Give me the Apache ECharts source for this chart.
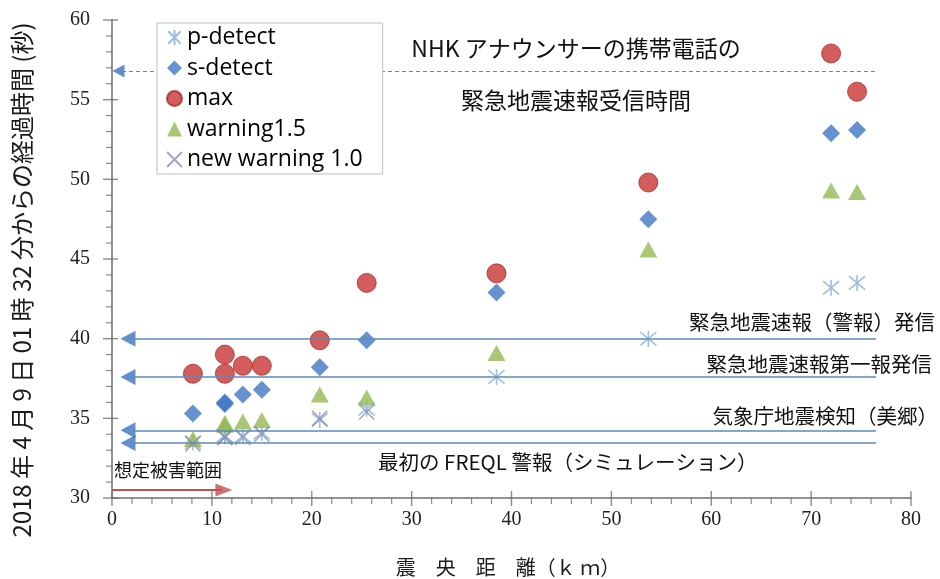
<!DOCTYPE html>
<html>
<head>
<meta charset="utf-8">
<script src="https://cdn.jsdelivr.net/npm/echarts/dist/echarts.min.js"></script>
<style>
  html, body { margin: 0; padding: 0; background: #fff; }
  #chart { width: 940px; height: 579px; }
</style>
</head>
<body>
<div id="chart"></div>
<script>
// Epicentral distance of each observing station (km)
const distanceKm = [8.1, 11.3, 11.3, 13.1, 15.0, 20.8, 25.5, 38.5, 53.7, 72.0, 74.6];

// Seconds elapsed since 2018-04-09 01:32 for each stage at each station
const pDetect      = [33.5, 33.9, 33.9, 33.9, 34.1, 34.9, 35.6, 37.6, 40.0, 43.2, 43.5];
const sDetect      = [35.3, 35.9, 36.0, 36.5, 36.8, 38.2, 39.9, 42.9, 47.5, 52.9, 53.1];
const maxShaking   = [37.8, 39.0, 37.8, 38.3, 38.3, 39.9, 43.5, 44.1, 49.8, 57.9, 55.5];
const warning15    = [33.7, 34.7, 34.6, 34.8, 34.9, 36.5, 36.3, 39.1, 45.6, 49.3, 49.2];
const newWarning10 = [33.4, 33.8, 33.8, 33.8, 34.0, 35.0, 35.4];

const seriesNames = ['p-detect', 's-detect', 'max', 'warning1.5', 'new warning 1.0'];

// Announcement times drawn as horizontal reference lines
const eventLabels = [
  '緊急地震速報（警報）発信',
  '緊急地震速報第一報発信',
  '気象庁地震検知（美郷）',
  '最初の FREQL 警報（シミュレーション）'
];
const eventTimes = [40.0, 37.6, 34.25, 33.45];
const nhkReceiveTime = 56.8;       // NHK announcer's phone received the alert
const damageRangeKm = 11.0;        // assumed damage range (arrow shaft end)
const damageArrowLevel = 30.5;

// Axis tick values (major ticks carry labels)
const xTicks = [0, 10, 20, 30, 40, 50, 60, 70, 80];
const yTicks = [30, 35, 40, 45, 50, 55, 60];
const xMinorTicks = [2, 4, 6, 8, 12, 14, 16, 18, 22, 24, 26, 28, 32, 34, 36, 38,
                     42, 44, 46, 48, 52, 54, 56, 58, 62, 64, 66, 68, 72, 74, 76, 78];
const yMinorTicks = [31, 32, 33, 34, 36, 37, 38, 39, 41, 42, 43, 44, 46, 47, 48, 49,
                     51, 52, 53, 54, 56, 57, 58, 59];

const pair = (xs, ys) => ys.map((y, i) => [xs[i], y]);

const ASTERISK = 'path://M1,1L11,11M11,1L1,11M6,0L6,12';
const CROSS = 'path://M0,0L10,10M10,0L0,10';

const JP = '"Noto Sans CJK JP", "Noto Sans", sans-serif';
const NUM = '"Liberation Serif", serif';

const axisGray = '#6e6e6e';
const refBlue = '#5b8bb7';
const arrowBlue = '#3d72c2';
const arrowRed = '#c0504d';

const chart = echarts.init(document.getElementById('chart'), null, { renderer: 'canvas' });

// Tick marks drawn as thin rectangles anchored on the axes
function tickMarks(name, points, size, offset) {
  return {
    name, type: 'scatter', silent: true, clip: false, z: 6,
    symbol: 'rect', symbolSize: size, symbolOffset: offset,
    itemStyle: { color: axisGray },
    data: points
  };
}

chart.setOption({
  animation: false,
  backgroundColor: '#fff',
  grid: { left: 112, right: 29, top: 20, bottom: 81, containLabel: false },
  xAxis: {
    type: 'value',
    min: xTicks[0], max: xTicks[xTicks.length - 1], interval: 10,
    splitLine: { show: false },
    axisLine: { show: true, onZero: false, lineStyle: { color: axisGray, width: 1.5 } },
    axisTick: { show: false },
    axisLabel: { margin: 12, fontFamily: NUM, fontSize: 20, color: '#222' }
  },
  yAxis: {
    type: 'value',
    min: yTicks[0], max: yTicks[yTicks.length - 1], interval: 5,
    splitLine: { show: false },
    axisLine: { show: true, onZero: false, lineStyle: { color: axisGray, width: 1.5 } },
    axisTick: { show: false },
    axisLabel: { margin: 22, fontFamily: NUM, fontSize: 20, color: '#222' }
  },
  legend: {
    orient: 'vertical',
    left: 157, top: 23,
    padding: [2, 20, 2, 9],
    itemWidth: 15, itemHeight: 15, itemGap: 5.5,
    backgroundColor: '#fff',
    borderColor: '#bfbfbf', borderWidth: 1,
    selectedMode: false,
    z: 10,
    data: seriesNames,
    textStyle: { fontFamily: '"Open Sans", sans-serif', fontSize: 23, lineHeight: 25, color: '#000' }
  },
  graphic: [
    { type: 'text', x: 22, y: 280, rotation: Math.PI / 2,
      style: { text: '2018 年 4 月 9 日 01 時 32 分からの経過時間 (秒)', font: '24px ' + JP, fill: '#1a1a1a', align: 'center', verticalAlign: 'middle' } },
    { type: 'text', x: 508, y: 567,
      style: { text: '震　央　距　離（ｋ ｍ）', font: '20px ' + JP, fill: '#1a1a1a', align: 'center', verticalAlign: 'middle' } },
    { type: 'text', x: 576, y: 48,
      style: { text: 'NHK アナウンサーの携帯電話の', font: '23px ' + JP, fill: '#111', align: 'center', verticalAlign: 'middle' } },
    { type: 'text', x: 576, y: 100,
      style: { text: '緊急地震速報受信時間', font: '23px ' + JP, fill: '#111', align: 'center', verticalAlign: 'middle' } },
    { type: 'text', x: 935, y: 322,
      style: { text: eventLabels[0], font: '20.5px ' + JP, fill: '#111', align: 'right', verticalAlign: 'middle' } },
    { type: 'text', x: 932, y: 364,
      style: { text: eventLabels[1], font: '20.5px ' + JP, fill: '#111', align: 'right', verticalAlign: 'middle' } },
    { type: 'text', x: 938, y: 416,
      style: { text: eventLabels[2], font: '20.5px ' + JP, fill: '#111', align: 'right', verticalAlign: 'middle' } },
    { type: 'text', x: 378, y: 462,
      style: { text: eventLabels[3], font: '20.5px ' + JP, fill: '#111', align: 'left', verticalAlign: 'middle' } },
    { type: 'text', x: 114, y: 470,
      style: { text: '想定被害範囲', font: '18px ' + JP, fill: '#111', align: 'left', verticalAlign: 'middle' } }
  ],
  series: [
    // axis ticks: majors cross the axis line, minors sit outside it
    tickMarks('yMajorTicks', yTicks.map(v => [xTicks[0], v]), [15, 1.4], [-1.5, 0]),
    tickMarks('yMinorTicks', yMinorTicks.map(v => [xTicks[0], v]), [6, 1.2], [-3, 0]),
    tickMarks('xMajorTicks', xTicks.map(v => [v, yTicks[0]]), [1.4, 15], [0, 0.5]),
    tickMarks('xMinorTicks', xMinorTicks.map(v => [v, yTicks[0]]), [1.2, 6], [0, 3]),
    // horizontal announcement lines
    {
      name: 'events', type: 'scatter', data: [], silent: true, z: 1,
      markLine: {
        silent: true, symbol: 'none', label: { show: false },
        lineStyle: { color: refBlue, width: 1.6, type: 'solid' },
        data: eventTimes.map(t => [{ coord: [1.9, t] }, { coord: [76.5, t] }])
      }
    },
    {
      name: 'nhk', type: 'scatter', data: [], silent: true, z: 1,
      markLine: {
        silent: true, symbol: 'none', label: { show: false },
        lineStyle: { color: refBlue, width: 1, type: [4, 3] },
        data: [[{ coord: [1.0, nhkReceiveTime] }, { coord: [76.5, nhkReceiveTime] }]]
      }
    },
    {
      name: 'damage', type: 'scatter', data: [], silent: true, z: 1,
      markLine: {
        silent: true, symbol: 'none', label: { show: false },
        lineStyle: { color: arrowRed, width: 2, type: 'solid' },
        data: [[{ coord: [0, damageArrowLevel] }, { coord: [damageRangeKm, damageArrowLevel] }]]
      }
    },
    // arrow heads
    {
      name: 'eventArrows', type: 'scatter', silent: true, z: 2,
      symbol: 'triangle', symbolRotate: 90, symbolSize: [16, 15],
      itemStyle: { color: arrowBlue },
      data: eventTimes.map(t => [1.6, t])
    },
    {
      name: 'nhkArrow', type: 'scatter', silent: true, z: 2,
      symbol: 'triangle', symbolRotate: 90, symbolSize: [13, 12],
      itemStyle: { color: arrowBlue },
      data: [[0.65, nhkReceiveTime]]
    },
    {
      name: 'damageArrow', type: 'scatter', silent: true, z: 2,
      symbol: 'triangle', symbolRotate: -90, symbolSize: [13, 17],
      itemStyle: { color: arrowRed },
      data: [[damageRangeKm + 0.2, damageArrowLevel]]
    },
    // measured stages
    {
      name: seriesNames[0], type: 'scatter', z: 3, symbol: ASTERISK, symbolSize: 16,
      itemStyle: { color: '#86acd6', borderColor: '#86acd6', borderWidth: 1.6 },
      data: pair(distanceKm, pDetect)
    },
    {
      name: seriesNames[1], type: 'scatter', z: 3, symbol: 'diamond', symbolSize: 18,
      itemStyle: { color: '#4177c4' },
      data: pair(distanceKm, sDetect)
    },
    {
      name: seriesNames[2], type: 'scatter', z: 3, symbol: 'circle', symbolSize: 19,
      itemStyle: { color: '#c73533', borderColor: '#b02a2a', borderWidth: 1 },
      data: pair(distanceKm, maxShaking)
    },
    {
      name: seriesNames[3], type: 'scatter', z: 3, symbol: 'triangle', symbolSize: [18, 16],
      itemStyle: { color: '#95b954' },
      data: pair(distanceKm, warning15)
    },
    {
      name: seriesNames[4], type: 'scatter', z: 3, symbol: CROSS, symbolSize: 15,
      itemStyle: { color: '#8b8fae', borderColor: '#8b8fae', borderWidth: 1.6 },
      data: pair(distanceKm, newWarning10)
    }
  ]
});
</script>
</body>
</html>
